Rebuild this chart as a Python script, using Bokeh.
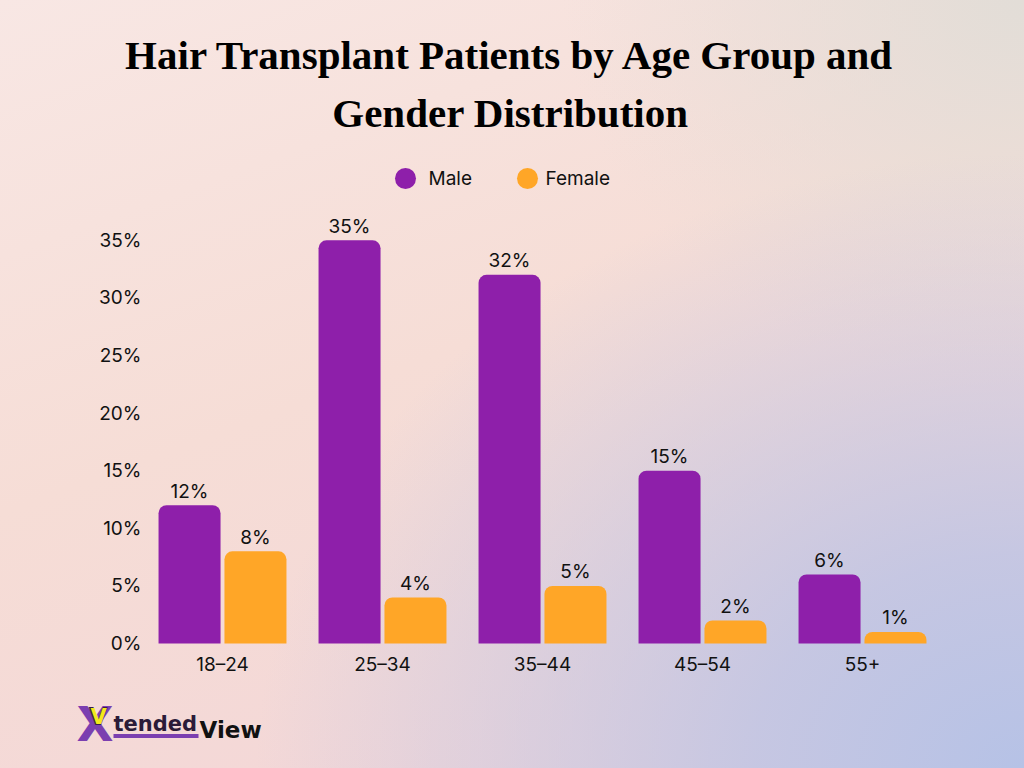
import numpy as np
from bokeh.plotting import figure
from bokeh.models import ColumnDataSource, FixedTicker, PrintfTickFormatter, Label
from bokeh.core.properties import value
from bokeh.embed import file_html
from bokeh.resources import INLINE

# ---- data ----
categories = ["18–24", "25–34", "35–44", "45–54", "55+"]
male = [12, 35, 32, 15, 6]
female = [8, 4, 5, 2, 1]
y_ticks = [0, 5, 10, 15, 20, 25, 30, 35]
series_names = ["Male", "Female"]
title_lines = ["Hair Transplant Patients by Age Group and", "Gender Distribution"]

MALE_C = "#8e1faa"
FEMALE_C = "#ffa627"
TXT = "#111111"
FONT = "Inter"

W, H = 1024, 768
# pixel geometry: group i center at 222 + 160*i ; y=0 at 643, 11.52 px per %
x0, xs = 222.0, 160.0
y0, ys = 643.0, 11.52
def dx(px):
    return (px - x0) / xs
def dy(py):
    return (y0 - py) / ys

p = figure(width=W, height=H, output_backend="svg", toolbar_location=None,
           x_range=(dx(0), dx(W)), y_range=(dy(H), dy(0)),
           min_border=0, min_border_left=0, min_border_right=0,
           min_border_top=0, min_border_bottom=0,
           background_fill_color=None, border_fill_color=None,
           styles={"background": "radial-gradient(ellipse 75% 80% at 100% 100%, rgba(182,194,230,1) 0%, rgba(190,196,228,0.85) 35%, rgba(200,200,228,0) 100%), "
                                 "radial-gradient(ellipse 45% 50% at 100% 0%, rgba(226,221,215,1) 0%, rgba(226,221,215,0) 100%), "
                                 "linear-gradient(160deg, #f8e7e4 0%, #f6ddd6 45%, #f2d4d8 100%)"})
p.outline_line_color = None
p.grid.visible = False

idx = np.arange(len(categories))
off = 0.206
bw = 0.3875
lab_gap = 14 / ys  # label centre sits 14px above the bar top
src = ColumnDataSource(dict(
    xm=idx - off, xf=idx + off, male=male, female=female,
    ym=np.array(male) + lab_gap, yf=np.array(female) + lab_gap,
    lm=[f"{v}%" for v in male], lf=[f"{v}%" for v in female]))

p.vbar(x="xm", top="male", width=bw, bottom=0, source=src, fill_color=MALE_C,
       line_color=None, border_radius=(8, 8, 0, 0))
p.vbar(x="xf", top="female", width=bw, bottom=0, source=src, fill_color=FEMALE_C,
       line_color=None, border_radius=(8, 8, 0, 0))

for xcol, ycol, lcol in (("xm", "ym", "lm"), ("xf", "yf", "lf")):
    p.text(x=xcol, y=ycol, text=lcol, source=src, text_align="center",
           text_baseline="middle", text_font=value(FONT),
           text_font_size="19px", text_color=TXT)

# axes (drawn at fixed positions inside the full-canvas frame)
p.yaxis.fixed_location = dx(150)
p.xaxis.fixed_location = 0
p.yaxis.ticker = FixedTicker(ticks=y_ticks)
p.yaxis.formatter = PrintfTickFormatter(format="%d%%")
p.xaxis.ticker = FixedTicker(ticks=list(idx))
p.xaxis.major_label_overrides = {int(i): c for i, c in zip(idx, categories)}
for ax in (p.xaxis, p.yaxis):
    ax.axis_line_color = None
    ax.major_tick_line_color = None
    ax.minor_tick_line_color = None
    ax.major_tick_out = 0
    ax.major_tick_in = 0
    ax.major_label_text_font = FONT
    ax.major_label_text_font_size = "19px"
    ax.major_label_text_color = TXT
p.yaxis.major_label_standoff = 9
p.xaxis.major_label_standoff = 9

# legend (circle markers + labels)
leg_x = [dx(405), dx(527)]
leg_tx = [dx(428), dx(545)]
leg_y = dy(178)
p.scatter(x=leg_x, y=[leg_y, leg_y], size=21, marker="circle",
          fill_color=[MALE_C, FEMALE_C], line_color=None)
p.text(x=leg_tx, y=[leg_y, leg_y], text=series_names, text_align="left",
       text_baseline="middle", text_font=value(FONT), text_font_size="19px",
       text_color=TXT)

# title
for line, cy in zip(title_lines, (54, 112)):
    p.add_layout(Label(x=dx(510), y=dy(cy), text=line, text_align="center",
                       text_baseline="middle", text_font="Liberation Serif",
                       text_font_style="bold", text_font_size="41px",
                       text_color="#000000"))

# logo
p.add_layout(Label(x=dx(76), y=dy(723), text="X", text_font="DejaVu Sans",
                   text_font_style="bold", text_font_size="48px",
                   text_color="#7b3fb0", text_baseline="middle"))
p.add_layout(Label(x=dx(88), y=dy(716), text="V", text_font="DejaVu Sans",
                   text_font_style="bold", text_font_size="25px",
                   text_color="#3a1d4a", text_baseline="middle"))
p.add_layout(Label(x=dx(90), y=dy(716), text="V", text_font="DejaVu Sans",
                   text_font_style="bold", text_font_size="21px",
                   text_color="#f3e81c", text_baseline="middle"))
p.add_layout(Label(x=dx(113), y=dy(723), text="tended", text_font="DejaVu Sans",
                   text_font_style="bold", text_font_size="21px",
                   text_color="#2b1b38", text_baseline="middle"))
p.segment(x0=[dx(113)], y0=[dy(735.5)], x1=[dx(198)], y1=[dy(735.5)],
          line_color="#7b3fb0", line_width=4)
p.add_layout(Label(x=dx(199), y=dy(729), text="View", text_font="DejaVu Sans",
                   text_font_style="bold", text_font_size="23px",
                   text_color="#111111", text_baseline="middle"))

open("out.html", "w").write(file_html(p, INLINE))
